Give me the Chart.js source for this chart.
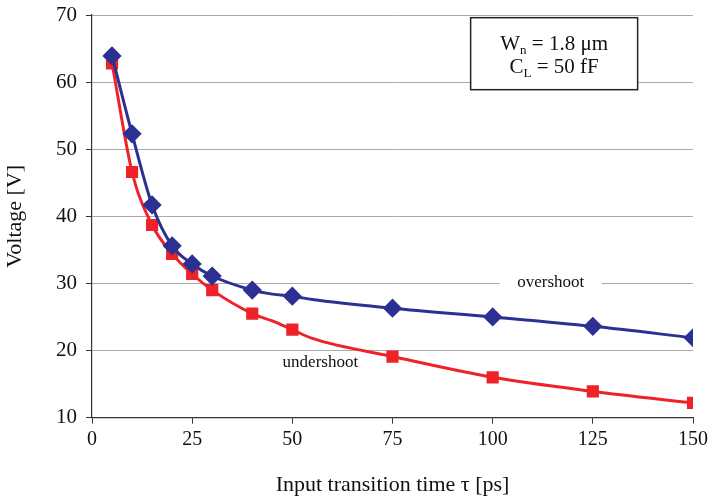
<!DOCTYPE html>
<html>
<head>
<meta charset="utf-8">
<script src="https://cdn.jsdelivr.net/npm/chart.js@4.4.1/dist/chart.umd.min.js"></script>
<style>
  html, body { margin: 0; padding: 0; background: #fff; }
  #wrap { width: 710px; height: 501px; position: relative; }
</style>
</head>
<body>
<div id="wrap"><canvas id="graf"></canvas></div>
<script>
// tempos de transicao (ps) e tensoes
const tauOver = [5, 10, 15, 20, 25, 30, 40, 45, 50, 55, 75, 100, 125, 150];
const overshoot = [63.9, 52.3, 41.7, 35.6, 32.9, 31.1, 29.0, 28.4, 28.1, 27.6, 26.3, 25.0, 23.6, 21.9];
const overMarks = [1, 1, 1, 1, 1, 1, 1, 0, 1, 0, 1, 1, 1, 1];

const tauUnder = [5, 10, 15, 20, 25, 30, 40, 45, 50, 55, 75, 100, 125, 150];
const undershoot = [62.8, 46.6, 38.7, 34.4, 31.4, 29.0, 25.5, 24.4, 23.1, 21.8, 19.1, 16.0, 13.9, 12.2];
const underMarks = [1, 1, 1, 1, 1, 1, 1, 0, 1, 0, 1, 1, 1, 1];

const xTicks = [0, 25, 50, 75, 100, 125, 150];
const yTicks = [10, 20, 30, 40, 50, 60, 70];

const azul = "#2B3092";
const vermelho = "#EE2229";
const serif = "'Liberation Serif', 'DejaVu Serif', serif";

const rotulos = {
  id: "rotulos",
  afterDraw(chart) {
    const ctx = chart.ctx;
    const x = chart.scales.x;
    const y = chart.scales.y;
    ctx.save();
    ctx.font = "17px " + serif;
    ctx.textAlign = "center";
    ctx.textBaseline = "middle";

    // overshoot (fundo branco cobre a linha de grade)
    const ox = x.getPixelForValue(114.5), oy = y.getPixelForValue(30);
    ctx.fillStyle = "#fff";
    ctx.fillRect(ox - 51, oy - 10, 102, 20);
    ctx.fillStyle = "#111";
    ctx.fillText("overshoot", ox, oy - 1);

    ctx.fillText("undershoot", x.getPixelForValue(57), y.getPixelForValue(18.2));

    // caixa com parametros
    const bx = x.getPixelForValue(94.5), by = y.getPixelForValue(69.6);
    const bw = 167, bh = 72;
    ctx.fillStyle = "#fff";
    ctx.fillRect(bx, by, bw, bh);
    ctx.strokeStyle = "#222";
    ctx.lineWidth = 1.5;
    ctx.strokeRect(bx, by, bw, bh);

    ctx.fillStyle = "#111";
    ctx.textAlign = "left";
    ctx.textBaseline = "alphabetic";
    const linha = (base, sub, resto, yy) => {
      ctx.font = "21px " + serif;
      const w1 = ctx.measureText(base).width;
      ctx.font = "13px " + serif;
      const w2 = ctx.measureText(sub).width;
      ctx.font = "21px " + serif;
      const w3 = ctx.measureText(resto).width;
      let cx = bx + bw / 2 - (w1 + w2 + w3) / 2;
      ctx.fillText(base, cx, yy);
      cx += w1;
      ctx.font = "13px " + serif;
      ctx.fillText(sub, cx, yy + 4);
      cx += w2;
      ctx.font = "21px " + serif;
      ctx.fillText(resto, cx, yy);
    };
    linha("W", "n", " = 1.8 \u03bcm", by + 32);
    linha("C", "L", " = 50 fF", by + 55);
    ctx.restore();
  }
};

new Chart(document.getElementById("graf"), {
  type: "line",
  data: {
    datasets: [
      {
        label: "overshoot",
        data: tauOver.map((t, i) => ({ x: t, y: overshoot[i] })),
        borderColor: azul,
        backgroundColor: azul,
        borderWidth: 3,
        pointStyle: "rectRot",
        pointRadius: overMarks.map(m => m ? 7.5 : 0),
        cubicInterpolationMode: "monotone",
      },
      {
        label: "undershoot",
        data: tauUnder.map((t, i) => ({ x: t, y: undershoot[i] })),
        borderColor: vermelho,
        backgroundColor: vermelho,
        borderWidth: 3,
        pointStyle: "rect",
        pointRadius: underMarks.map(m => m ? 6.5 : 0),
        cubicInterpolationMode: "monotone",
      },
    ],
  },
  options: {
    responsive: true,
    maintainAspectRatio: false,
    animation: false,
    layout: { padding: { top: 15, right: 17, left: 0, bottom: 3 } },
    plugins: {
      legend: { display: false },
      tooltip: { enabled: false },
    },
    scales: {
      x: {
        type: "linear",
        min: 0,
        max: 150,
        afterBuildTicks: (s) => { s.ticks = xTicks.map(v => ({ value: v })); },
        afterFit: (s) => { s.paddingRight = 0; s.paddingLeft = 0; },
        grid: { drawOnChartArea: false, tickLength: 6, color: "#333" },
        border: { color: "#333", width: 1.2 },
        ticks: { color: "#111", font: { family: serif, size: 20 }, padding: 4, maxRotation: 0 },
        title: {
          display: true,
          text: "Input transition time \u03c4 [ps]",
          color: "#111",
          font: { family: serif, size: 22 },
          padding: { top: 16, bottom: 0 },
        },
      },
      y: {
        min: 10,
        max: 70,
        afterBuildTicks: (s) => { s.ticks = yTicks.map(v => ({ value: v })); },
        afterFit: (s) => { s.width = 92; s.paddingTop = 0; s.paddingBottom = 0; },
        grid: { color: "#aaa", tickColor: "#333", tickLength: 6, lineWidth: 1 },
        border: { color: "#333", width: 1.2 },
        ticks: { color: "#111", font: { family: serif, size: 21 }, padding: 9 },
        title: {
          display: true,
          text: "Voltage [V]",
          color: "#111",
          font: { family: serif, size: 22 },
          padding: { top: 2, bottom: 2 },
        },
      },
    },
  },
  plugins: [rotulos],
});
</script>
</body>
</html>
